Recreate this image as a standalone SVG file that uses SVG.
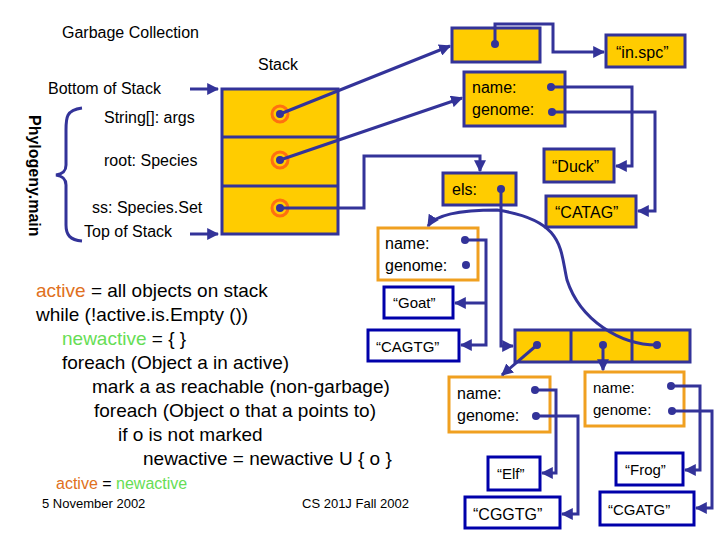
<svg xmlns="http://www.w3.org/2000/svg" width="720" height="540" viewBox="0 0 720 540">
<style>
text{font-family:"Liberation Sans",Arial,sans-serif;fill:#000}
.y{fill:#ffcc00;stroke:#333399;stroke-width:3}
.o{fill:#fff;stroke:#f0a020;stroke-width:3}
.b{fill:#fff;stroke:#0000aa;stroke-width:3}
.c{fill:none;stroke:#333399;stroke-width:3}
.d{fill:#333399}
.r{fill:none;stroke:#ff7010;stroke-width:3}
.t{font-size:16px}
.k{font-size:19px}
.or{fill:#e07020}
.gr{fill:#66dd55}
</style>
<defs>
<marker id="a" viewBox="0 0 10 10" refX="9" refY="5" markerWidth="4" markerHeight="4" orient="auto"><path d="M0,0L10,5L0,10z" fill="#333399"/></marker>
</defs>
<text x="62" y="38" class="t">Garbage Collection</text>
<text x="258" y="70" class="t">Stack</text>
<text x="48" y="94" class="t">Bottom of Stack</text>
<text x="104" y="123" class="t">String[]: args</text>
<text x="104" y="166" class="t">root: Species</text>
<text x="92" y="213" class="t">ss: Species.Set</text>
<text x="84" y="237" class="t">Top of Stack</text>
<text transform="translate(29,115) rotate(90)" class="t" font-weight="bold">Phylogeny.main</text>
<path class="c" d="M82,108 C66,110 66,118 66,130 L66,165 C66,172 62,174 56,175 C62,176 66,178 66,185 L66,225 C66,235 70,240 82,241"/>
<g id="stack">
<rect class="y" x="222" y="89" width="116" height="145"/>
<path class="c" d="M222,137H338M222,186H338"/>
<circle class="r" cx="280" cy="114" r="8"/><circle class="d" cx="280" cy="114" r="4"/>
<circle class="r" cx="280" cy="160" r="8"/><circle class="d" cx="280" cy="160" r="4"/>
<circle class="r" cx="280" cy="208" r="8"/><circle class="d" cx="280" cy="208" r="4"/>
</g>
<g id="args"><rect class="y" x="452" y="28" width="88" height="34"/><circle class="d" cx="495" cy="44" r="4"/></g>
<g id="inspc"><rect class="y" x="606" y="35" width="79" height="32"/><text x="616" y="58" class="t">“in.spc”</text></g>
<g id="root"><rect class="y" x="464" y="72" width="101" height="54"/><text x="472" y="93" class="t">name:</text><text x="472" y="115" class="t">genome:</text><circle class="d" cx="551" cy="87" r="4"/><circle class="d" cx="552" cy="112" r="4"/></g>
<g id="duck"><rect class="y" x="544" y="149" width="70" height="33"/><text x="552" y="172" class="t">“Duck”</text></g>
<g id="catag"><rect class="y" x="546" y="196" width="90" height="31"/><text x="555" y="218" class="t">“CATAG”</text></g>
<g id="ss"><rect class="y" x="443" y="173" width="73" height="32"/><text x="452" y="195" class="t">els:</text><circle class="d" cx="501" cy="189" r="4"/></g>
<g id="goatobj"><rect class="o" x="378" y="228" width="100" height="52"/><text x="385" y="249" class="t">name:</text><text x="385" y="271" class="t">genome:</text><circle class="d" cx="465" cy="240" r="4"/><circle class="d" cx="466" cy="265" r="4"/></g>
<g id="goat"><rect class="b" x="384" y="287" width="69" height="31"/><text x="393" y="308" font-size="15">“Goat”</text></g>
<g id="cagtg"><rect class="b" x="368" y="330" width="91" height="31"/><text x="376" y="352" font-size="15">“CAGTG”</text></g>
<g id="array"><rect class="y" x="515" y="330" width="175" height="32"/><path class="c" d="M571,330V362M632,330V362"/><circle class="d" cx="537" cy="345" r="4"/><circle class="d" cx="603" cy="345" r="4"/><circle class="d" cx="657" cy="345" r="4"/></g>
<g id="elfobj"><rect class="o" x="449" y="377" width="101" height="55"/><text x="457" y="399" class="t">name:</text><text x="457" y="421" class="t">genome:</text><circle class="d" cx="535" cy="390" r="4"/><circle class="d" cx="536" cy="416" r="4"/></g>
<g id="elf"><rect class="b" x="488" y="457" width="52" height="33"/><text x="497" y="479" font-size="15">“Elf”</text></g>
<g id="cggtg"><rect class="b" x="465" y="497" width="95" height="31"/><text x="473" y="520" class="t">“CGGTG”</text></g>
<g id="frogobj"><rect class="o" x="585" y="372" width="99" height="54"/><text x="593" y="393" font-size="15">name:</text><text x="593" y="415" font-size="15">genome:</text><circle class="d" cx="671" cy="386" r="4"/><circle class="d" cx="672" cy="411" r="4"/></g>
<g id="frog"><rect class="b" x="616" y="453" width="67" height="32"/><text x="625" y="475" font-size="15">“Frog”</text></g>
<g id="cgatg"><rect class="b" x="600" y="492" width="94" height="33"/><text x="608" y="515" font-size="15">“CGATG”</text></g>
<g id="connectors" class="c">
<path class="c" d="M190,89H218" marker-end="url(#a)"/>
<path class="c" d="M190,234H218" marker-end="url(#a)"/>
<path class="c" d="M280,114L450,46" marker-end="url(#a)"/>
<path class="c" d="M280,160L462,98" marker-end="url(#a)"/>
<path class="c" d="M280,208H364V156H480V171" marker-end="url(#a)"/>
<path class="c" d="M495,44V24H553V52H604" marker-end="url(#a)"/>
<path class="c" d="M551,87H632V166H616" marker-end="url(#a)"/>
<path class="c" d="M552,112H655V211H638" marker-end="url(#a)"/>
<path class="c" d="M501,189V346H513" marker-end="url(#a)"/>
<path class="c" d="M657,345C620,345 580,320 567,280C560,250 565,220 497,210C460,210 435,215 428,226" marker-end="url(#a)"/>
<path class="c" d="M465,240H486V345H461" marker-end="url(#a)"/>
<path class="c" d="M486,303H455" marker-end="url(#a)"/>
<path class="c" d="M537,345L502,375" marker-end="url(#a)"/>
<path class="c" d="M603,345V370" marker-end="url(#a)"/>
<path class="c" d="M535,390H556V473H542" marker-end="url(#a)"/>
<path class="c" d="M536,416H578V514H562" marker-end="url(#a)"/>
<path class="c" d="M671,386H700V470H685" marker-end="url(#a)"/>
<path class="c" d="M672,411H712V508H696" marker-end="url(#a)"/>
</g>
<text x="36" y="297" class="k"><tspan class="or">active</tspan> = all objects on stack</text>
<text x="36" y="321" class="k">while (!active.is.Empty ())</text>
<text x="62" y="345" class="k"><tspan class="gr">newactive</tspan> = { }</text>
<text x="62" y="369" class="k">foreach (Object a in active)</text>
<text x="92" y="393" class="k">mark a as reachable (non-garbage)</text>
<text x="94" y="417" class="k">foreach (Object o that a points to)</text>
<text x="118" y="441" class="k">if o is not marked</text>
<text x="143" y="465" class="k">newactive = newactive U { o }</text>
<text x="56" y="489" font-size="16"><tspan class="or">active</tspan> = <tspan class="gr">newactive</tspan></text>
<text x="42" y="508" font-size="13">5 November 2002</text>
<text x="302" y="508" font-size="13">CS 201J Fall 2002</text>
</svg>
